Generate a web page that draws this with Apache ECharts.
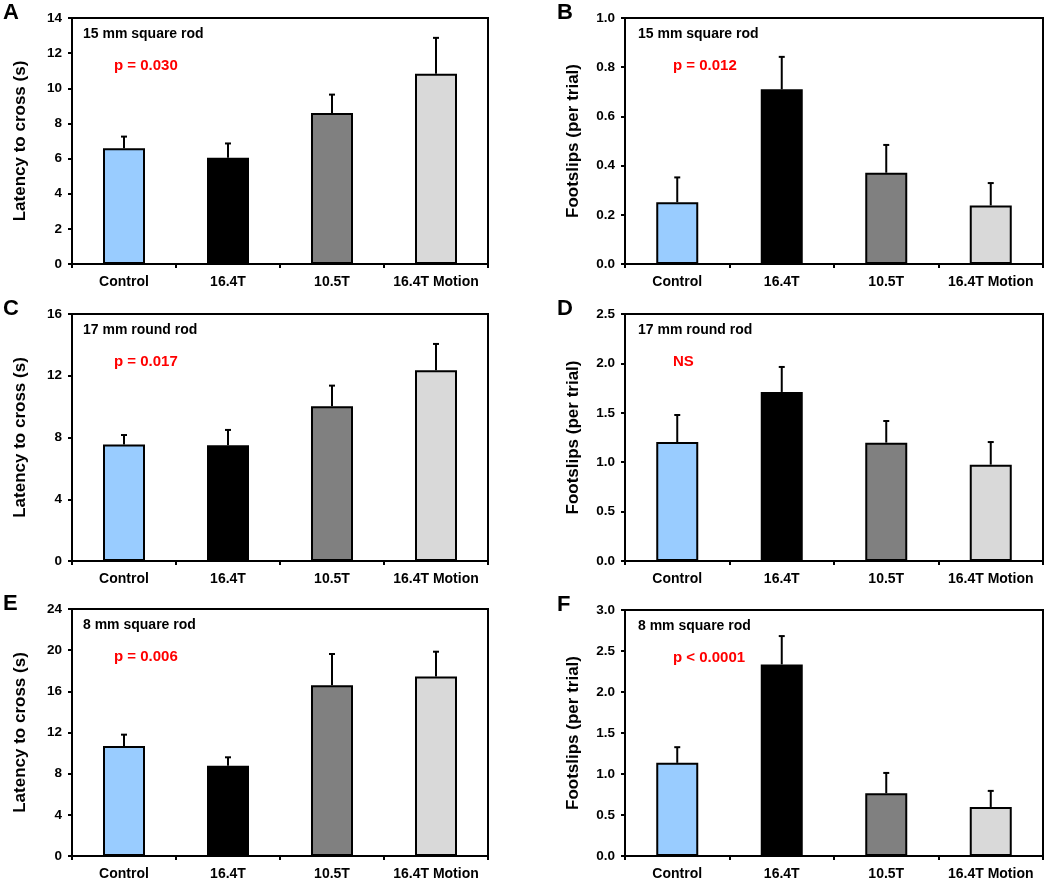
<!DOCTYPE html>
<html>
<head>
<meta charset="utf-8">
<script src="https://cdn.jsdelivr.net/npm/echarts@6/dist/echarts.min.js"></script>
<style>html,body{margin:0;padding:0;background:#fff}#c{width:1050px;height:885px}</style>
</head>
<body>
<div id="c"></div>
<script>
const categories = ['Control', '16.4T', '10.5T', '16.4T Motion'];
const barColors = ['#99ccff', '#000000', '#808080', '#d9d9d9'];

const latency15Mean = [6.59, 6.05, 8.60, 10.83];
const latency15Upper = [7.25, 6.86, 9.64, 12.87];
const footslips15Mean = [0.251, 0.710, 0.371, 0.238];
const footslips15Upper = [0.352, 0.842, 0.484, 0.329];
const latency17Mean = [7.54, 7.49, 10.02, 12.35];
const latency17Upper = [8.16, 8.49, 11.36, 14.06];
const footslips17Mean = [1.204, 1.711, 1.198, 0.975];
const footslips17Upper = [1.478, 1.964, 1.417, 1.204];
const latency8Mean = [10.69, 8.78, 16.58, 17.43];
const latency8Upper = [11.79, 9.59, 19.63, 19.85];
const footslips8Mean = [1.136, 2.336, 0.765, 0.598];
const footslips8Upper = [1.327, 2.682, 1.013, 0.794];

const panelLetters = ['A', 'B', 'C', 'D', 'E', 'F'];
const rodLabels = ['15 mm square rod', '15 mm square rod', '17 mm round rod', '17 mm round rod', '8 mm square rod', '8 mm square rod'];
const pLabels = ['p = 0.030', 'p = 0.012', 'p = 0.017', 'NS', 'p = 0.006', 'p < 0.0001'];
const yNames = ['Latency to cross (s)', 'Footslips (per trial)', 'Latency to cross (s)', 'Footslips (per trial)', 'Latency to cross (s)', 'Footslips (per trial)'];
const yMax = [14, 1.0, 16, 2.5, 24, 3.0];
const yInterval = [2, 0.2, 4, 0.5, 4, 0.5];
const yDecimals = [0, 1, 0, 1, 0, 1];

const means = [latency15Mean, footslips15Mean, latency17Mean, footslips17Mean, latency8Mean, footslips8Mean];
const uppers = [latency15Upper, footslips15Upper, latency17Upper, footslips17Upper, latency8Upper, footslips8Upper];

const FONT = '"Liberation Sans", Arial, sans-serif';
const gridsPos = [
  {left: 72, top: 18, width: 416, height: 246},
  {left: 625, top: 18, width: 418, height: 246},
  {left: 72, top: 314, width: 416, height: 247},
  {left: 625, top: 314, width: 418, height: 247},
  {left: 72, top: 609, width: 416, height: 247},
  {left: 625, top: 610, width: 418, height: 246}
];

const grid = [], xAxis = [], yAxis = [], series = [], graphic = [];
for (let i = 0; i < 6; i++) {
  const g = gridsPos[i];
  grid.push({left: g.left, top: g.top, width: g.width, height: g.height, show: true, borderColor: '#000', borderWidth: 2, backgroundColor: 'transparent'});
  xAxis.push({
    type: 'category', gridIndex: i, data: categories,
    axisLine: {lineStyle: {color: '#000', width: 2}},
    axisTick: {show: true, interval: 0, length: 4, lineStyle: {color: '#000', width: 2}},
    axisLabel: {interval: 0, hideOverlap: false, color: '#000', fontWeight: 'bold', fontSize: 14, fontFamily: FONT, margin: 11}
  });
  const dec = yDecimals[i];
  yAxis.push({
    type: 'value', gridIndex: i, min: 0, max: yMax[i], interval: yInterval[i],
    name: yNames[i], nameLocation: 'middle', nameGap: 43,
    nameTextStyle: {color: '#000', fontWeight: 'bold', fontSize: 17, fontFamily: FONT},
    axisLine: {show: true, lineStyle: {color: '#000', width: 2}},
    axisTick: {show: true, length: 4, lineStyle: {color: '#000', width: 2}},
    splitLine: {show: false},
    axisLabel: {color: '#000', fontWeight: 'bold', fontSize: 13.5, fontFamily: FONT, margin: 10,
      formatter: v => v.toFixed(dec)}
  });
  series.push({
    type: 'bar', xAxisIndex: i, yAxisIndex: i, barWidth: 42,
    data: means[i].map((v, k) => ({value: v, itemStyle: {color: barColors[k]}})),
    itemStyle: {borderColor: '#000', borderWidth: 2},
    z: 3
  });
  series.push({
    type: 'custom', xAxisIndex: i, yAxisIndex: i, z: 2,
    data: means[i].map((v, k) => [k, v, uppers[i][k]]),
    renderItem: function (params, api) {
      const top = api.coord([api.value(0), api.value(2)]);
      const bot = api.coord([api.value(0), api.value(1)]);
      const hw = 3;
      return {
        type: 'group',
        children: [
          {type: 'line', shape: {x1: top[0], y1: top[1], x2: bot[0], y2: bot[1]}, style: {stroke: '#000', lineWidth: 2}},
          {type: 'line', shape: {x1: top[0] - hw, y1: top[1], x2: top[0] + hw, y2: top[1]}, style: {stroke: '#000', lineWidth: 2}}
        ]
      };
    }
  });
  graphic.push({type: 'text', left: g.left + (i % 2 ? 13 : 11), top: g.top + 9,
    style: {text: rodLabels[i], fill: '#000', font: 'bold 14px ' + FONT}});
  graphic.push({type: 'text', left: g.left + (i % 2 ? 48 : 42), top: g.top + 40,
    style: {text: pLabels[i], fill: '#ff0000', font: 'bold 15px ' + FONT}});
  graphic.push({type: 'text', left: (i % 2 ? 557 : 3), top: g.top - 16,
    style: {text: panelLetters[i], fill: '#000', font: 'bold 22px ' + FONT}});
}

const chart = echarts.init(document.getElementById('c'), null, {renderer: 'canvas'});
chart.setOption({animation: false, backgroundColor: '#fff', grid, xAxis, yAxis, series, graphic});
</script>
</body>
</html>
